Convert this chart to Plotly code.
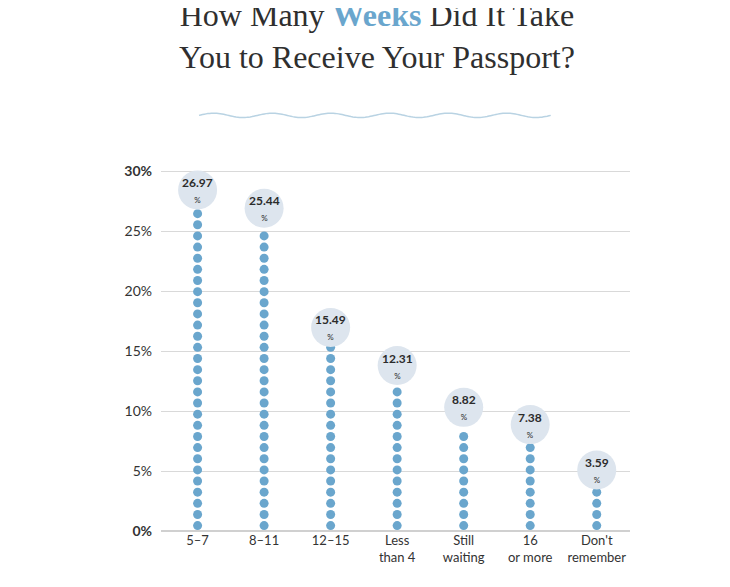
import plotly.graph_objects as go
import numpy as np

categories = ["5–7", "8–11", "12–15", "Less<br>than 4", "Still<br>waiting", "16<br>or more", "Don't<br>remember"]
values = [26.97, 25.44, 15.49, 12.31, 8.82, 7.38, 3.59]
tick_vals = [0, 5, 10, 15, 20, 25, 30]
tick_text = ["<b>0%</b>", "5%", "10%", "15%", "20%", "25%", "<b>30%</b>"]

step = 0.93
fig = go.Figure()
dx, dy = [], []
for c, v in zip(categories, values):
    n = int(round(v / step))
    for i in range(n):
        dx.append(c); dy.append(0.45 + i * step)
fig.add_trace(go.Scatter(x=dx, y=dy, mode="markers",
                         marker=dict(size=9, color="#6aa6cd"), hoverinfo="skip"))
fig.add_trace(go.Scatter(x=categories, y=[v + 1.5 for v in values], mode="markers",
                         marker=dict(size=39, color="#dde5ee"), hoverinfo="skip"))
for c, v in zip(categories, values):
    fig.add_annotation(x=c, y=v + 1.5, text=f"<b>{v:.2f}</b><br><span style='font-size:8px'>%</span>",
                       showarrow=False, font=dict(size=12, color="#2b2b2b", family="Lato"))

# wavy decoration
t = np.linspace(0, 1, 200)
xs = 0.081 + t * (0.831 - 0.081)
ys = 1.145 + 0.006 * np.sin(t * 2 * np.pi * 6)
path = "M " + " L ".join(f"{a:.4f},{b:.4f}" for a, b in zip(xs, ys))
fig.add_shape(type="path", path=path, xref="paper", yref="paper",
              line=dict(color="#b9d3e3", width=1.5))

fig.add_annotation(xref="paper", yref="paper", x=0.46, y=1.365, yanchor="middle",
                   text="How Many <b><span style='color:#6aa6cd'>Weeks</span></b> Did It Take<br>You to Receive Your Passport?",
                   showarrow=False, font=dict(size=32, color="#2f2f2f", family="Liberation Serif"))

fig.update_layout(
    width=730, height=587, margin=dict(l=153, r=108, t=160, b=64),
    paper_bgcolor="white", plot_bgcolor="white", showlegend=False,
    font=dict(family="Lato", color="#333"),
    xaxis=dict(showgrid=False, tickfont=dict(size=13, color="#333"), showline=False, ticks="",
               range=[-0.55, 6.5]),
    yaxis=dict(range=[0, 30.3], tickvals=tick_vals, ticktext=tick_text, gridcolor="#d9d9d9",
               zeroline=True, zerolinecolor="#d0d0d0", tickfont=dict(size=14, color="#333"),
               ticklabelstandoff=8),
)
fig.write_html("out.html")
